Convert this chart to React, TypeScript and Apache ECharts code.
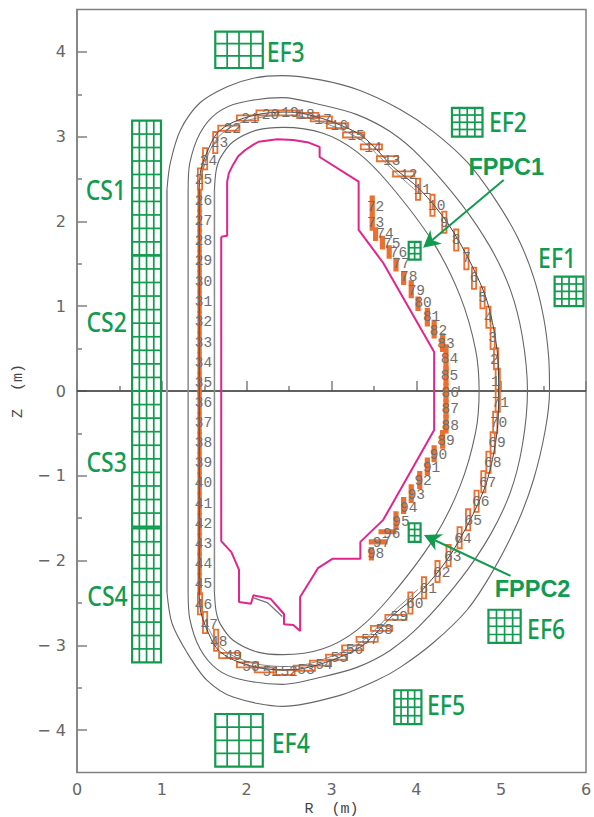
import React, { useEffect, useRef } from "react";
import * as echarts from "echarts";

const xTicks = [0, 1, 2, 3, 4, 5, 6];
const yTicks = [-4, -3, -2, -1, 0, 1, 2, 3, 4];
const yMinorTicks = [-3.5, -2.5, -1.5, -0.5, 0.5, 1.5, 2.5, 3.5];
const zeroLine = [[0, 0], [6, 0]];

const outerShell = [
  [1.06, 2.37], [1.10, 2.69], [1.22, 3.08], [1.45, 3.40], [1.77, 3.59], [2.08, 3.69], [2.42, 3.72], [2.87, 3.67],
  [3.32, 3.55], [3.81, 3.32], [4.20, 3.06], [4.60, 2.70], [4.91, 2.29], [5.19, 1.82], [5.38, 1.35], [5.50, 0.87],
  [5.56, 0.40], [5.57, 0], [5.52, -0.46], [5.38, -1.05], [5.19, -1.56], [4.91, -2.11], [4.60, -2.58], [4.20, -2.97],
  [3.81, -3.26], [3.54, -3.41], [3.10, -3.59], [2.43, -3.72], [1.84, -3.61], [1.53, -3.41], [1.30, -3.09],
  [1.12, -2.74], [1.06, -2.37],
];
const middleShell = [
  [1.31, 2.37], [1.33, 2.69], [1.45, 3.04], [1.65, 3.28], [1.92, 3.40], [2.42, 3.46], [2.90, 3.37], [3.30, 3.26],
  [3.69, 3.06], [4.05, 2.76], [4.52, 2.22], [4.87, 1.70], [5.11, 1.19], [5.25, 0.64], [5.31, 0], [5.25, -0.64],
  [5.11, -1.19], [4.87, -1.70], [4.52, -2.22], [4.05, -2.76], [3.69, -3.06], [3.30, -3.26], [2.90, -3.37],
  [2.42, -3.46], [1.92, -3.40], [1.65, -3.28], [1.45, -3.04], [1.33, -2.69], [1.31, -2.37],
];
const innerShell = [
  [1.62, 2.37], [1.64, 2.60], [1.69, 2.75], [1.84, 2.94], [2.13, 3.08], [2.43, 3.11], [2.90, 3.04], [3.30, 2.82],
  [3.69, 2.43], [4.20, 1.75], [4.52, 1.11], [4.70, 0.48], [4.74, 0], [4.70, -0.48], [4.52, -1.11], [4.20, -1.75],
  [3.69, -2.43], [3.30, -2.82], [2.90, -3.04], [2.43, -3.11], [2.13, -3.08], [1.84, -2.94], [1.69, -2.75],
  [1.64, -2.60], [1.62, -2.37],
];
const outerStraight = [[1.06, 2.37], [1.06, -2.37]];
const middleStraight = [[1.31, 2.37], [1.31, -2.37]];
const innerStraight = [[1.62, 2.37], [1.62, -2.37]];
const wallLine = [
  [1.44, 2.37], [1.46, 2.61], [1.53, 2.81], [1.65, 3.04], [1.84, 3.17], [2.12, 3.26], [2.43, 3.29], [2.63, 3.28],
  [3.02, 3.17], [3.37, 3.00], [3.73, 2.64], [4.05, 2.37], [4.37, 1.98], [4.64, 1.51], [4.84, 1.04], [4.96, 0.40],
  [4.97, 0], [4.96, -0.40], [4.84, -1.04], [4.64, -1.51], [4.37, -1.98], [4.05, -2.37], [3.73, -2.64], [3.37, -3.00],
  [3.02, -3.17], [2.63, -3.28], [2.43, -3.29], [2.12, -3.26], [1.84, -3.17], [1.65, -3.04], [1.53, -2.81],
  [1.46, -2.61], [1.44, -2.37], [1.44, 2.37],
];
const wallInnerUpper = [
  [1.47, 2.55], [1.55, 2.80], [1.67, 3.00], [1.85, 3.13], [2.12, 3.22], [2.43, 3.25], [2.63, 3.24], [3.00, 3.13],
  [3.35, 2.96], [3.70, 2.63], [4.02, 2.34],
];
const wallInnerLower = [
  [1.55, -2.80], [1.67, -3.00], [1.85, -3.13], [2.12, -3.22], [2.43, -3.25], [2.63, -3.24], [3.00, -3.13],
  [3.35, -2.96], [3.70, -2.63], [4.02, -2.34],
];
const limiter = [
  [1.70, 1.82], [1.77, 1.83], [1.77, 2.47], [1.79, 2.57], [1.84, 2.67], [1.90, 2.77], [1.98, 2.84], [2.07, 2.90],
  [2.14, 2.94], [2.36, 2.97], [2.55, 2.96], [2.73, 2.93], [2.86, 2.88], [2.86, 2.76], [3.32, 2.47], [3.32, 1.90],
  [3.61, 1.51], [4.21, 0.46], [4.21, -0.46], [3.61, -1.52], [3.34, -1.78], [3.34, -1.98], [3.01, -1.98],
  [2.84, -2.09], [2.63, -2.43], [2.63, -2.83], [2.55, -2.76], [2.44, -2.75], [2.44, -2.63], [2.28, -2.45],
  [2.08, -2.41], [2.05, -2.51], [1.91, -2.49], [1.91, -2.11], [1.82, -1.90], [1.70, -1.77], [1.70, 1.82],
];
const divertorPlate = [[2.08, -2.44], [2.25, -2.50], [2.42, -2.66]];

// probe outlines: R, Z, width, height (m)
const probeRects = [
  [4.96, 0.14, 0.05, 0.25], [4.94, 0.38, 0.05, 0.25], [4.90, 0.62, 0.05, 0.25], [4.85, 0.87, 0.05, 0.25],
  [4.78, 1.10, 0.05, 0.25], [4.68, 1.33, 0.05, 0.25], [4.59, 1.56, 0.05, 0.25], [4.47, 1.78, 0.05, 0.25],
  [4.33, 1.99, 0.05, 0.25], [4.19, 2.19, 0.05, 0.25], [4.02, 2.38, 0.05, 0.25], [3.85, 2.56, 0.25, 0.06],
  [3.66, 2.74, 0.25, 0.06], [3.47, 2.88, 0.25, 0.06], [3.26, 3.02, 0.25, 0.06], [3.07, 3.13, 0.25, 0.06],
  [2.88, 3.21, 0.25, 0.06], [2.72, 3.25, 0.25, 0.06], [2.50, 3.28, 0.25, 0.06], [2.24, 3.28, 0.25, 0.06],
  [2.01, 3.22, 0.25, 0.06], [1.79, 3.10, 0.25, 0.06], [1.63, 2.93, 0.05, 0.25], [1.51, 2.74, 0.05, 0.25],
  [1.45, 2.50, 0.05, 0.25], [1.445, 2.24, 0.03, 0.24], [1.445, 2.01, 0.03, 0.24], [1.445, 1.77, 0.03, 0.24],
  [1.445, 1.53, 0.03, 0.24], [1.445, 1.29, 0.03, 0.24], [1.445, 1.05, 0.03, 0.24], [1.445, 0.81, 0.03, 0.24],
  [1.445, 0.57, 0.03, 0.24], [1.445, 0.33, 0.03, 0.24], [1.445, 0.09, 0.03, 0.24], [1.445, -0.14, 0.03, 0.24],
  [1.445, -0.38, 0.03, 0.24], [1.445, -0.61, 0.03, 0.24], [1.445, -0.85, 0.03, 0.24], [1.445, -1.09, 0.03, 0.24],
  [1.445, -1.33, 0.03, 0.24], [1.445, -1.57, 0.03, 0.24], [1.445, -1.81, 0.03, 0.24], [1.445, -2.04, 0.03, 0.24],
  [1.445, -2.28, 0.03, 0.24], [1.45, -2.51, 0.05, 0.25], [1.51, -2.73, 0.05, 0.25], [1.64, -2.94, 0.05, 0.25],
  [1.80, -3.12, 0.25, 0.06], [2.01, -3.23, 0.25, 0.06], [2.22, -3.29, 0.25, 0.06], [2.44, -3.32, 0.25, 0.06],
  [2.68, -3.27, 0.25, 0.06], [2.87, -3.21, 0.25, 0.06], [3.06, -3.14, 0.25, 0.06], [3.25, -3.03, 0.25, 0.06],
  [3.42, -2.93, 0.25, 0.06], [3.59, -2.80, 0.25, 0.06], [3.76, -2.67, 0.25, 0.06], [3.93, -2.50, 0.05, 0.25],
  [4.09, -2.32, 0.05, 0.25], [4.25, -2.13, 0.05, 0.25], [4.38, -1.94, 0.05, 0.25], [4.51, -1.73, 0.05, 0.25],
  [4.61, -1.52, 0.05, 0.25], [4.71, -1.30, 0.05, 0.25], [4.79, -1.07, 0.05, 0.25], [4.85, -0.84, 0.05, 0.25],
  [4.90, -0.61, 0.05, 0.25], [4.93, -0.37, 0.05, 0.25], [4.96, -0.12, 0.05, 0.25], [3.48, 2.17, 0.04, 0.25],
  [3.48, 1.97, 0.04, 0.14], [3.52, 1.85, 0.04, 0.14], [3.60, 1.75, 0.04, 0.14], [3.68, 1.64, 0.04, 0.14],
  [3.76, 1.49, 0.04, 0.14], [3.85, 1.33, 0.04, 0.14], [3.94, 1.20, 0.04, 0.19], [4.02, 1.03, 0.04, 0.15],
  [4.13, 0.87, 0.04, 0.20], [4.21, 0.73, 0.04, 0.20], [4.31, 0.57, 0.04, 0.20], [4.35, 0.39, 0.04, 0.30],
  [4.35, 0.18, 0.04, 0.20], [4.35, -0.02, 0.04, 0.20], [4.35, -0.21, 0.04, 0.20], [4.35, -0.39, 0.04, 0.20],
  [4.31, -0.57, 0.04, 0.20], [4.21, -0.74, 0.04, 0.18], [4.13, -0.89, 0.04, 0.19], [4.04, -1.05, 0.04, 0.19],
  [3.94, -1.21, 0.04, 0.20], [3.85, -1.35, 0.04, 0.18], [3.76, -1.53, 0.04, 0.20], [3.66, -1.66, 0.19, 0.04],
  [3.55, -1.78, 0.20, 0.04], [3.47, -1.92, 0.04, 0.14],
];
// probe number position: R, Z (m); number is the index + 1
const probeLabels = [
  [4.93, 0.11], [4.92, 0.37], [4.90, 0.63], [4.85, 0.86], [4.78, 1.10], [4.68, 1.33], [4.59, 1.57], [4.47, 1.78],
  [4.33, 1.98], [4.24, 2.18], [4.07, 2.37], [3.91, 2.55], [3.71, 2.71], [3.49, 2.87], [3.29, 3.01], [3.09, 3.12],
  [2.90, 3.20], [2.70, 3.25], [2.51, 3.28], [2.28, 3.26], [2.04, 3.21], [1.83, 3.09], [1.68, 2.93], [1.55, 2.71],
  [1.49, 2.49], [1.49, 2.24], [1.49, 2.01], [1.49, 1.77], [1.49, 1.53], [1.49, 1.29], [1.49, 1.05], [1.49, 0.81],
  [1.49, 0.57], [1.49, 0.33], [1.49, 0.09], [1.49, -0.14], [1.49, -0.38], [1.49, -0.61], [1.49, -0.85],
  [1.49, -1.09], [1.49, -1.33], [1.49, -1.57], [1.49, -1.81], [1.49, -2.04], [1.49, -2.28], [1.49, -2.53],
  [1.56, -2.76], [1.67, -2.96], [1.84, -3.13], [2.05, -3.26], [2.29, -3.32], [2.50, -3.32], [2.70, -3.29],
  [2.91, -3.23], [3.09, -3.15], [3.27, -3.06], [3.45, -2.94], [3.62, -2.82], [3.80, -2.67], [3.98, -2.51],
  [4.14, -2.34], [4.30, -2.15], [4.43, -1.96], [4.55, -1.75], [4.67, -1.53], [4.76, -1.31], [4.84, -1.09],
  [4.90, -0.85], [4.95, -0.61], [4.97, -0.38], [4.99, -0.14], [3.52, 2.17], [3.52, 1.98], [3.63, 1.85],
  [3.71, 1.73], [3.79, 1.63], [3.82, 1.50], [3.91, 1.35], [4.00, 1.18], [4.08, 1.04], [4.18, 0.87], [4.26, 0.71],
  [4.35, 0.55], [4.39, 0.38], [4.39, 0.18], [4.40, -0.02], [4.40, -0.21], [4.40, -0.41], [4.35, -0.59],
  [4.26, -0.76], [4.18, -0.91], [4.08, -1.06], [4.00, -1.23], [3.91, -1.38], [3.82, -1.55], [3.71, -1.69],
  [3.59, -1.79], [3.52, -1.92],
];

// coils: Rmin, Zmin, Rmax, Zmax, columns, rows
const coilBoxes = [
  [0.65, 1.60, 0.99, 3.19, 4, 10], [0.65, 0, 0.99, 1.60, 4, 10], [0.65, -1.60, 0.99, 0, 4, 10],
  [0.65, -3.20, 0.99, -1.62, 4, 10], [5.63, 1.00, 5.97, 1.35, 4, 4], [4.42, 3.00, 4.78, 3.34, 4, 4],
  [1.63, 3.81, 2.19, 4.24, 4, 3], [1.63, -4.43, 2.19, -3.81, 4, 4], [3.74, -3.93, 4.06, -3.53, 4, 4],
  [4.85, -2.97, 5.23, -2.58, 4, 4], [3.91, 1.55, 4.05, 1.76, 2, 3], [3.91, -1.78, 4.05, -1.56, 2, 3],
];
const coilNames = ["CS1", "CS2", "CS3", "CS4", "EF1", "EF2", "EF3", "EF4", "EF5", "EF6"];
const coilNameR = [0.34, 0.35, 0.35, 0.36, 5.66, 5.08, 2.46, 2.52, 4.35, 5.53];
const coilNameZ = [2.37, 0.81, -0.83, -2.42, 1.57, 3.17, 4.0, -4.15, -3.70, -2.80];
const fppcNames = ["FPPC1", "FPPC2"];
const fppcNameR = [5.06, 5.37];
const fppcNameZ = [2.64, -2.34];
// arrows: tail R, tail Z, tip R, tip Z
const fppcArrows = [[5.03, 2.49, 4.08, 1.69], [5.11, -2.18, 4.09, -1.70]];

const GREEN = "#119b4e";
const ORANGE = "#ec6f30";
const LABEL_FONT = "'DejaVu Sans', sans-serif";
const MONO_FONT = "'Liberation Mono', monospace";

function lineSeries(data: number[][], color: string, width: number, smooth: number | boolean, z: number) {
  return {
    type: "line",
    data,
    smooth,
    symbol: "none",
    silent: true,
    clip: false,
    z,
    lineStyle: { color, width },
  };
}

function renderRect(_: any, api: any) {
  const c = api.coord([api.value(0), api.value(1)]);
  const w = api.value(2) * (api.size([1, 0])[0] as number);
  const h = api.value(3) * (api.size([0, 1])[1] as number);
  const solid = api.value(2) <= 0.04 || api.value(3) <= 0.04;
  return {
    type: "rect",
    shape: { x: c[0] - w / 2, y: c[1] - h / 2, width: w, height: h },
    style: { fill: solid ? ORANGE : "none", stroke: ORANGE, lineWidth: 1.8 },
  };
}

function renderProbeLabel(params: any, api: any) {
  const c = api.coord([api.value(0), api.value(1)]);
  return {
    type: "text",
    x: c[0],
    y: c[1],
    style: {
      text: String(params.dataIndex + 1),
      fontFamily: MONO_FONT,
      fontSize: 14.5,
      fill: "#6e6e6e",
      align: "center",
      verticalAlign: "middle",
    },
  };
}

function renderCoil(_: any, api: any) {
  const a = api.coord([api.value(0), api.value(3)]);
  const b = api.coord([api.value(2), api.value(1)]);
  const cols = api.value(4);
  const rows = api.value(5);
  const children: any[] = [
    {
      type: "rect",
      shape: { x: a[0], y: a[1], width: b[0] - a[0], height: b[1] - a[1] },
      style: { fill: "none", stroke: GREEN, lineWidth: 2.2 },
    },
  ];
  for (let i = 1; i < cols; i++) {
    const x = a[0] + ((b[0] - a[0]) * i) / cols;
    children.push({
      type: "line",
      shape: { x1: x, y1: a[1], x2: x, y2: b[1] },
      style: { stroke: GREEN, lineWidth: 1.7 },
    });
  }
  for (let j = 1; j < rows; j++) {
    const y = a[1] + ((b[1] - a[1]) * j) / rows;
    children.push({
      type: "line",
      shape: { x1: a[0], y1: y, x2: b[0], y2: y },
      style: { stroke: GREEN, lineWidth: 1.7 },
    });
  }
  return { type: "group", children };
}

function renderArrow(_: any, api: any) {
  const p = api.coord([api.value(0), api.value(1)]);
  const q = api.coord([api.value(2), api.value(3)]);
  const ang = Math.atan2(q[1] - p[1], q[0] - p[0]);
  const ux = Math.cos(ang);
  const uy = Math.sin(ang);
  const at = (back: number, side: number) => [q[0] - ux * back - uy * side, q[1] - uy * back + ux * side];
  return {
    type: "group",
    children: [
      {
        type: "line",
        shape: { x1: p[0], y1: p[1], x2: at(12, 0)[0], y2: at(12, 0)[1] },
        style: { stroke: GREEN, lineWidth: 2 },
      },
      {
        type: "polygon",
        shape: { points: [q, at(17, 9), at(12, 0), at(17, -9)] },
        style: { fill: GREEN },
      },
    ],
  };
}

function makeNameRenderer(names: string[], font: string, size: number, weight: number, scaleY: number) {
  return (params: any, api: any) => {
    const c = api.coord([api.value(0), api.value(1)]);
    return {
      type: "text",
      x: c[0],
      y: c[1],
      scaleY,
      style: {
        text: names[params.dataIndex],
        fontFamily: font,
        fontSize: size,
        fontWeight: weight,
        fill: GREEN,
        align: "center",
        verticalAlign: "middle",
      },
    };
  };
}

function customSeries(data: any[], renderItem: any, z: number) {
  return { type: "custom", coordinateSystem: "cartesian2d", data, renderItem, silent: true, clip: false, z };
}

export default function App() {
  const ref = useRef<HTMLDivElement>(null);
  useEffect(() => {
    document.body.style.margin = "0";
    document.body.style.background = "#fff";
    const chart = echarts.init(ref.current!, undefined, { renderer: "svg" });
    const axisGray = "#808080";
    chart.setOption({
      animation: false,
      backgroundColor: "#fff",
      grid: {
        left: 77,
        top: 9.5,
        width: 509,
        height: 763,
        outerBoundsMode: "none",
        show: true,
        borderColor: axisGray,
        borderWidth: 1.5,
        backgroundColor: "transparent",
      },
      xAxis: {
        type: "value",
        min: xTicks[0],
        max: xTicks[xTicks.length - 1],
        interval: 1,
        name: "R  (m)",
        nameLocation: "middle",
        nameGap: 29,
        nameTextStyle: { fontFamily: MONO_FONT, fontSize: 15, color: "#444" },
        axisLine: { lineStyle: { color: axisGray, width: 1.5 } },
        axisTick: { inside: true, length: 10, lineStyle: { color: axisGray, width: 1.5 } },
        minorTick: { show: true, splitNumber: 2, length: 5, lineStyle: { color: axisGray, width: 1.5 } },
        axisLabel: { fontFamily: LABEL_FONT, fontSize: 16, color: "#666", margin: 9 },
        splitLine: { show: false },
      },
      yAxis: [
        {
          type: "value",
          min: -4.5,
          max: 4.5,
          name: "Z  (m)",
          nameLocation: "middle",
          nameRotate: 90,
          nameGap: 45,
          nameTextStyle: { fontFamily: MONO_FONT, fontSize: 15, color: "#444" },
          axisLine: { show: true, lineStyle: { color: axisGray, width: 1.5 } },
          axisTick: { show: true, inside: true, length: 10, customValues: yTicks, lineStyle: { color: axisGray, width: 1.5 } },
          axisLabel: {
            customValues: yTicks,
            fontFamily: LABEL_FONT,
            fontSize: 16,
            color: "#666",
            margin: 11,
            formatter: (v: number) => (v < 0 ? `\u2212 ${-v}` : `${v}`),
          },
          splitLine: { show: false },
        },
        {
          type: "value",
          min: -4.5,
          max: 4.5,
          position: "left",
          axisLine: { show: false },
          axisTick: { show: true, inside: true, length: 5, customValues: yMinorTicks, lineStyle: { color: axisGray, width: 1.5 } },
          axisLabel: { show: false },
          splitLine: { show: false },
        },
      ],
      series: [
        lineSeries(zeroLine, "#222", 1, false, 2),
        lineSeries(outerShell, "#666", 1.1, 0.3, 3),
        lineSeries(middleShell, "#666", 1.1, 0.3, 3),
        lineSeries(innerShell, "#666", 1.1, 0.3, 3),
        lineSeries(outerStraight, "#9a9aa0", 2, false, 3),
        lineSeries(middleStraight, "#8a8a8a", 1.5, false, 3),
        lineSeries(innerStraight, "#8a8a8a", 1.5, false, 3),
        lineSeries(limiter, "#e0258c", 2, false, 4),
        lineSeries(divertorPlate, "#777", 1.3, false, 4),
        customSeries(probeRects, renderRect, 5),
        lineSeries(wallInnerUpper, "#888", 1, 0.3, 6),
        lineSeries(wallInnerLower, "#888", 1, 0.3, 6),
        lineSeries(wallLine, "#444", 1, 0.3, 6),
        customSeries(probeLabels, renderProbeLabel, 7),
        customSeries(coilBoxes, renderCoil, 8),
        customSeries(fppcArrows, renderArrow, 9),
        customSeries(coilNameR.map((r, i) => [r, coilNameZ[i]]), makeNameRenderer(coilNames, "'Noto Sans', sans-serif", 23, 500, 1.15), 10),
        customSeries(fppcNameR.map((r, i) => [r, fppcNameZ[i]]), makeNameRenderer(fppcNames, "'Liberation Sans', sans-serif", 23.5, 700, 1), 10),
      ],
    });
    return () => chart.dispose();
  }, []);
  return <div ref={ref} style={{ position: "absolute", left: 0, top: 0, width: 594, height: 817 }} />;
}
